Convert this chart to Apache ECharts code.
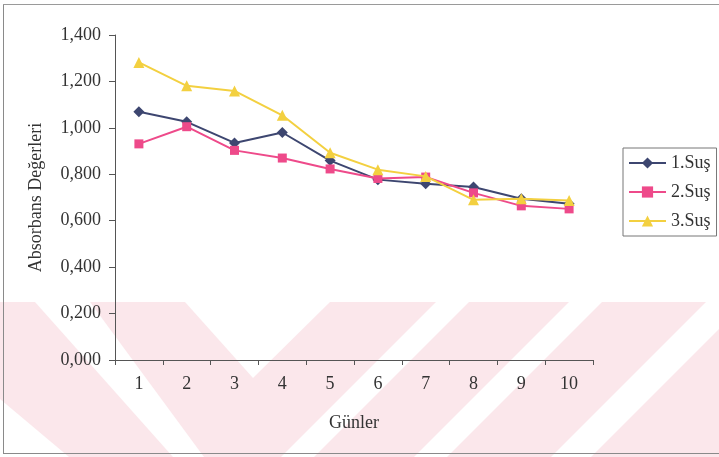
<!DOCTYPE html>
<html>
<head>
<meta charset="utf-8">
<script src="https://cdn.jsdelivr.net/npm/echarts@6/dist/echarts.min.js"></script>
<style>
  html, body { margin: 0; padding: 0; background: #fff; }
  #chart { width: 719px; height: 457px; }
</style>
</head>
<body>
<div id="chart"></div>
<script>
// Days and absorbance readings for the three strains
const days = ['1', '2', '3', '4', '5', '6', '7', '8', '9', '10'];
const seriesNames = ['1.Suş', '2.Suş', '3.Suş'];
const strain1 = [1.069, 1.026, 0.935, 0.980, 0.859, 0.777, 0.759, 0.745, 0.695, 0.673];
const strain2 = [0.931, 1.005, 0.903, 0.870, 0.823, 0.782, 0.788, 0.720, 0.664, 0.651];
const strain3 = [1.282, 1.181, 1.159, 1.054, 0.893, 0.820, 0.791, 0.690, 0.695, 0.687];

const serif = '"Liberation Serif", "Times New Roman", serif';
const textColor = '#333';
const axisColor = '#555';
const pink = '#fbe7eb';

const chart = echarts.init(document.getElementById('chart'));

// Background stripe band along the bottom of the page
const bandTop = 302, bandBottom = 457;
const whiteGaps = [
  [[0, 399], [69, 457], [0, 457]],
  [[35, 302], [90, 302], [204, 457], [173, 457]],
  [[185, 302], [330, 302], [253, 378]],
  [[436, 302], [469, 302], [314, 457], [281, 457]],
  [[569, 302], [602, 302], [447, 457], [414, 457]],
  [[706, 302], [746, 302], [591, 457], [551, 457]]
];
const graphics = [
  { type: 'rect', z: -2, silent: true,
    shape: { x: 0, y: bandTop, width: 719, height: bandBottom - bandTop },
    style: { fill: pink } }
];
whiteGaps.forEach(pts => graphics.push({
  type: 'polygon', z: -1, silent: true,
  shape: { points: pts }, style: { fill: '#fff' }
}));
// Page frame
graphics.push(
  { type: 'line', z: 1, silent: true, shape: { x1: 3.5, y1: 4, x2: 3.5, y2: 454 }, style: { stroke: '#8a8a8a', lineWidth: 1 } },
  { type: 'line', z: 1, silent: true, shape: { x1: 3, y1: 4.5, x2: 719, y2: 4.5 }, style: { stroke: '#9a9a9a', lineWidth: 1 } },
  { type: 'line', z: 1, silent: true, shape: { x1: 3, y1: 453.5, x2: 719, y2: 453.5 }, style: { stroke: '#8a8a8a', lineWidth: 1 } }
);

const colors = ['#3d4670', '#ee4a8a', '#f3d040'];
const symbols = ['diamond', 'rect', 'triangle'];
const sizes = [11, 9, 11];
const values = [strain1, strain2, strain3];

chart.setOption({
  animation: false,
  backgroundColor: '#fff',
  graphic: graphics,
  grid: { left: 115, right: 126, top: 35, bottom: 97, containLabel: false, outerBoundsMode: 'none' },
  legend: {
    orient: 'vertical',
    left: 623, top: 148,
    padding: [6, 6, 6, 5],
    itemWidth: 37, itemHeight: 14, itemGap: 11,
    borderColor: '#777', borderWidth: 1,
    backgroundColor: '#fff',
    textStyle: { fontFamily: serif, fontSize: 18, color: textColor },
    data: seriesNames
  },
  xAxis: {
    type: 'category',
    data: days,
    boundaryGap: true,
    name: 'Günler',
    nameLocation: 'middle',
    nameGap: 54,
    nameTextStyle: { fontFamily: serif, fontSize: 18, color: textColor },
    axisLine: { lineStyle: { color: axisColor, width: 1 } },
    axisTick: { show: true, inside: false, length: 5, alignWithLabel: false, lineStyle: { color: axisColor } },
    axisLabel: { fontFamily: serif, fontSize: 18, color: textColor, margin: 15 },
    splitLine: { show: false }
  },
  yAxis: {
    type: 'value',
    min: 0, max: 1.4, interval: 0.2,
    name: 'Absorbans Değerleri',
    nameLocation: 'middle',
    nameGap: 70,
    nameRotate: 90,
    nameTextStyle: { fontFamily: serif, fontSize: 18, color: textColor },
    axisLine: { show: true, lineStyle: { color: axisColor, width: 1 } },
    axisTick: { show: true, inside: false, length: 6, lineStyle: { color: axisColor } },
    axisLabel: {
      fontFamily: serif, fontSize: 18, color: textColor, margin: 14,
      formatter: v => v.toFixed(3).replace('.', ',')
    },
    splitLine: { show: false }
  },
  series: seriesNames.map((name, i) => ({
    name,
    type: 'line',
    data: values[i],
    symbol: symbols[i],
    symbolSize: sizes[i],
    showAllSymbol: true,
    color: colors[i],
    lineStyle: { color: colors[i], width: 2 },
    itemStyle: { color: colors[i] },
    z: 3 + i
  }))
});
</script>
</body>
</html>
